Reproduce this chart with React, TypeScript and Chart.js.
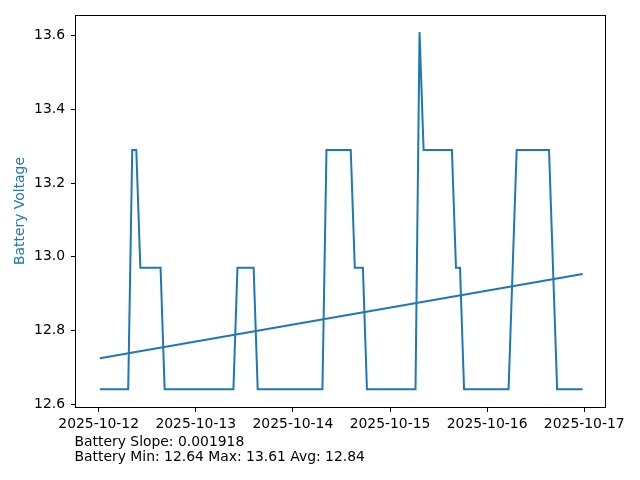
import React, { useEffect, useRef } from "react";
import { Chart, registerables } from "chart.js";

Chart.register(...registerables);

// Sample times in hours since 2025-10-12 00:00
const hours = [0.3, 7.3, 8.3, 9.3, 10.3, 15.3, 16.3, 33.3, 34.3, 38.3, 39.3, 55.3, 56.3, 62.3, 63.3, 65.3, 66.3, 78.3, 79.3, 80.3, 87.3, 88.3, 89.3, 90.3, 101.3, 103.3, 111.3, 113.3, 119.6];
const voltage = [12.64, 12.64, 13.29, 13.29, 12.97, 12.97, 12.64, 12.64, 12.97, 12.97, 12.64, 12.64, 13.29, 13.29, 12.97, 12.97, 12.64, 12.64, 13.61, 13.29, 13.29, 12.97, 12.97, 12.64, 12.64, 13.29, 13.29, 12.64, 12.64];
const trendHours = [0.3, 119.6];
const trendValues = [12.724, 12.953];
const dateLabels = ["2025-10-12", "2025-10-13", "2025-10-14", "2025-10-15", "2025-10-16", "2025-10-17"];
const yTickValues = [12.6, 12.8, 13.0, 13.2, 13.4, 13.6];
const infoLines = ["Battery Slope: 0.001918", "Battery Min: 12.64 Max: 13.61 Avg: 12.84"];
const yTitle = "Battery Voltage";

const BLUE = "#1f77b4";
const FONT = "DejaVu Sans";
const FS = 13.9;

export default function App() {
  const ref = useRef<HTMLCanvasElement | null>(null);
  useEffect(() => {
    document.body.style.margin = "0";
    const canvas = ref.current;
    if (!canvas) return;
    const framePlugin = {
      id: "frame",
      afterDraw(chart: any) {
        const { ctx, chartArea } = chart;
        const { left, right, top, bottom } = chartArea;
        ctx.save();
        ctx.strokeStyle = "#000";
        ctx.lineWidth = 1;
        ctx.strokeRect(left - 0.5, top + 0.5, right - left, bottom - top);
        ctx.fillStyle = "#000";
        ctx.font = `${FS}px "${FONT}"`;
        ctx.textAlign = "left";
        ctx.textBaseline = "alphabetic";
        infoLines.forEach((t, i) => ctx.fillText(t, 74.5, 446.3 + i * 15));
        ctx.restore();
      },
    };
    const chart = new Chart(canvas, {
      type: "line",
      data: {
        datasets: [
          {
            data: hours.map((h, i) => ({ x: h, y: voltage[i] })),
            borderColor: BLUE,
            borderWidth: 2,
            pointRadius: 0,
            tension: 0,
            fill: false,
          },
          {
            data: trendHours.map((h, i) => ({ x: h, y: trendValues[i] })),
            borderColor: BLUE,
            borderWidth: 2,
            pointRadius: 0,
            tension: 0,
            fill: false,
          },
        ],
      },
      options: {
        animation: false,
        responsive: false,
        devicePixelRatio: 1,
        layout: { padding: { top: 15, right: 34, left: 0, bottom: 0 } },
        plugins: { legend: { display: false }, tooltip: { enabled: false }, title: { display: false } },
        scales: {
          x: {
            type: "linear",
            min: -5.6,
            max: 125.38,
            afterFit(scale: any) {
              scale.height = 73;
            },
            border: { display: false },
            grid: { drawOnChartArea: false, drawTicks: true, tickLength: 5, color: "#000" },
            ticks: {
              stepSize: 24,
              includeBounds: false,
              autoSkip: false,
              maxRotation: 0,
              padding: 4,
              color: "#000",
              font: { family: FONT, size: FS },
              callback: (v: any) => {
                const idx = Math.round(Number(v) / 24);
                return dateLabels[idx] ?? "";
              },
            },
          },
          y: {
            type: "linear",
            min: 12.5919,
            max: 13.6562,
            afterFit(scale: any) {
              scale.width = 76;
            },
            afterBuildTicks(scale: any) {
              scale.ticks = yTickValues.map((v) => ({ value: v }));
            },
            border: { display: false },
            grid: { drawOnChartArea: false, drawTicks: true, tickLength: 5, color: "#000" },
            title: {
              display: true,
              text: yTitle,
              color: BLUE,
              font: { family: FONT, size: FS },
              padding: { top: 12.5, bottom: 0 },
            },
            ticks: {
              padding: 6,
              color: "#000",
              font: { family: FONT, size: FS },
              callback: (v: any) => Number(v).toFixed(1),
            },
          },
        },
      },
      plugins: [framePlugin],
    });
    return () => chart.destroy();
  }, []);
  return (
    <div style={{ position: "absolute", left: 0, top: 0, width: 640, height: 480, background: "#fff" }}>
      <canvas ref={ref} width={640} height={480} />
    </div>
  );
}
